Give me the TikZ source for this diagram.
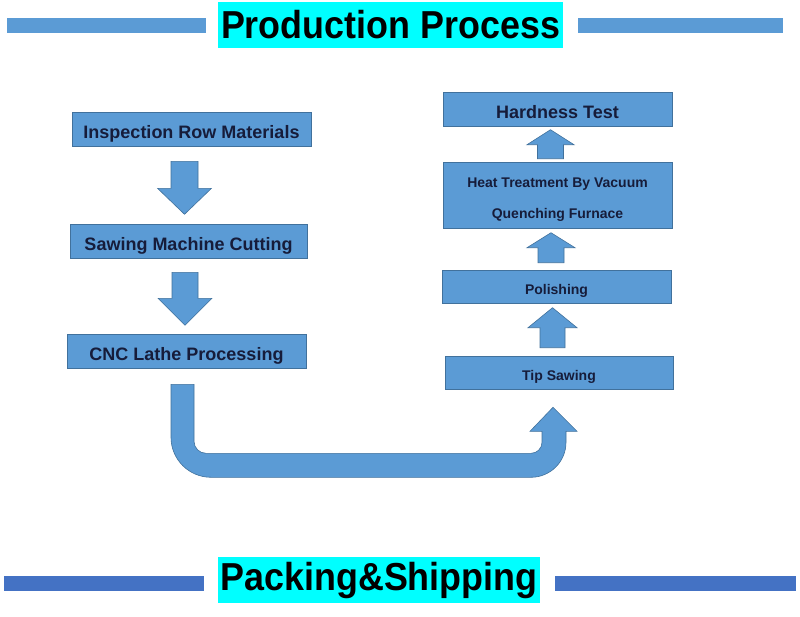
\documentclass[tikz,border=0pt]{standalone}
\usepackage{fontspec}
\setmainfont{Liberation Sans}
\newfontfamily\titlefont[FakeStretch=0.92]{Liberation Sans}
\usetikzlibrary{calc}

\definecolor{boxblue}{RGB}{91,155,213}
\definecolor{boxedge}{RGB}{65,113,156}
\definecolor{barblue}{RGB}{68,114,196}
\definecolor{textnavy}{RGB}{22,28,58}
\definecolor{titlecyan}{RGB}{0,255,255}

\begin{document}
\begin{tikzpicture}[x=1pt,y=-1pt,
    box/.style={draw=boxedge, line width=0.6pt, fill=boxblue, text=textnavy,
      font=\bfseries\fontsize{18}{21}\selectfont, inner sep=0pt, minimum height=34pt,
      text height=18.9pt, text depth=0pt},
    smallbox/.style={box, font=\bfseries\fontsize{14}{17}\selectfont, text height=16pt},
    title/.style={fill=titlecyan, inner sep=0pt, minimum height=46pt,
      font=\titlefont\bfseries\fontsize{39}{44}\selectfont},
    blk/.style={fill=boxblue, draw=boxedge, line width=0.6pt},
    pics/vblock/.style n args={4}{code={
      \draw[blk] (-#1,0) -- (-#1,#4-#3) -- (-#2,#4-#3) -- (0,#4)
        -- (#2,#4-#3) -- (#1,#4-#3) -- (#1,0) -- cycle;
    }}
  ]
  \useasboundingbox (0,0) rectangle (800,616);

  % headings
  \fill[boxblue] (7,18) rectangle (206,33);
  \fill[boxblue] (578,18) rectangle (783,33);
  \node[title, minimum width=345pt] (prod) at (390.5,25) {Production Process};
  \fill[barblue] (4,576) rectangle (204,591);
  \fill[barblue] (555,576) rectangle (796,591);
  \node[title, minimum width=322pt] (pack) at (379,580) {Packing\&Shipping};

  % left column
  \node[box, minimum width=239pt] (insp) at (191.5,129) {Inspection Row Materials};
  \node[box, minimum width=237pt] (sawm) at (188.5,241) {Sawing Machine Cutting};
  \node[box, minimum width=239pt] (cnc) at (186.5,351) {CNC Lathe Processing};
  \pic at ($(insp.south)+(-7,15)$) {vblock={13.5}{27}{26}{53}};
  \pic at ($(sawm.south)+(-3.5,14)$) {vblock={13}{27}{27}{53}};

  % right column
  \node[box, minimum width=229pt] (hard) at (557.5,109) {Hardness Test};
  \node[smallbox, minimum width=229pt, minimum height=66pt, align=center,
    font=\bfseries\fontsize{14}{31}\selectfont, text height=46pt, text depth=0pt]
    (heat) at (557.5,195) {Heat Treatment By Vacuum\\Quenching Furnace};
  \node[smallbox, minimum width=229pt, minimum height=33pt] (pol) at (556.5,286.5) {Polishing};
  \node[smallbox, minimum width=228pt, minimum height=33pt] (tips) at (559,372.5) {Tip Sawing};
  \pic[rotate=180] at ($(heat.north)+(-7,-3)$) {vblock={13}{23.5}{15}{29}};
  \pic[rotate=180] at ($(pol.north)+(-5.5,-7)$) {vblock={13}{24}{15}{30}};
  \pic[rotate=180] at ($(tips.north)+(-6.5,-8)$) {vblock={12.5}{24.5}{20}{40}};

  % u-turn from lathe to tip sawing
  \coordinate (ustart) at ($(cnc.south)+(-4,16)$);
  \coordinate (uend) at ($(tips.south)+(-6,18)$);
  \draw[blk] (ustart) ++(-11.5,0) -- ++(0,53) arc[start angle=180,end angle=90,radius=40]
    -- ($(uend)+(-22,70)$) arc[start angle=90,end angle=0,radius=35]
    -- ++(0,-11) -- ++(11,0) -- (uend) -- ++(-23,24) -- ++(12,0) -- ++(0,11)
    arc[start angle=0,end angle=90,radius=11] -- ($(ustart)+(23.5,69)$)
    arc[start angle=90,end angle=180,radius=12] -- ($(ustart)+(11.5,0)$) -- cycle;
\end{tikzpicture}
\end{document}
